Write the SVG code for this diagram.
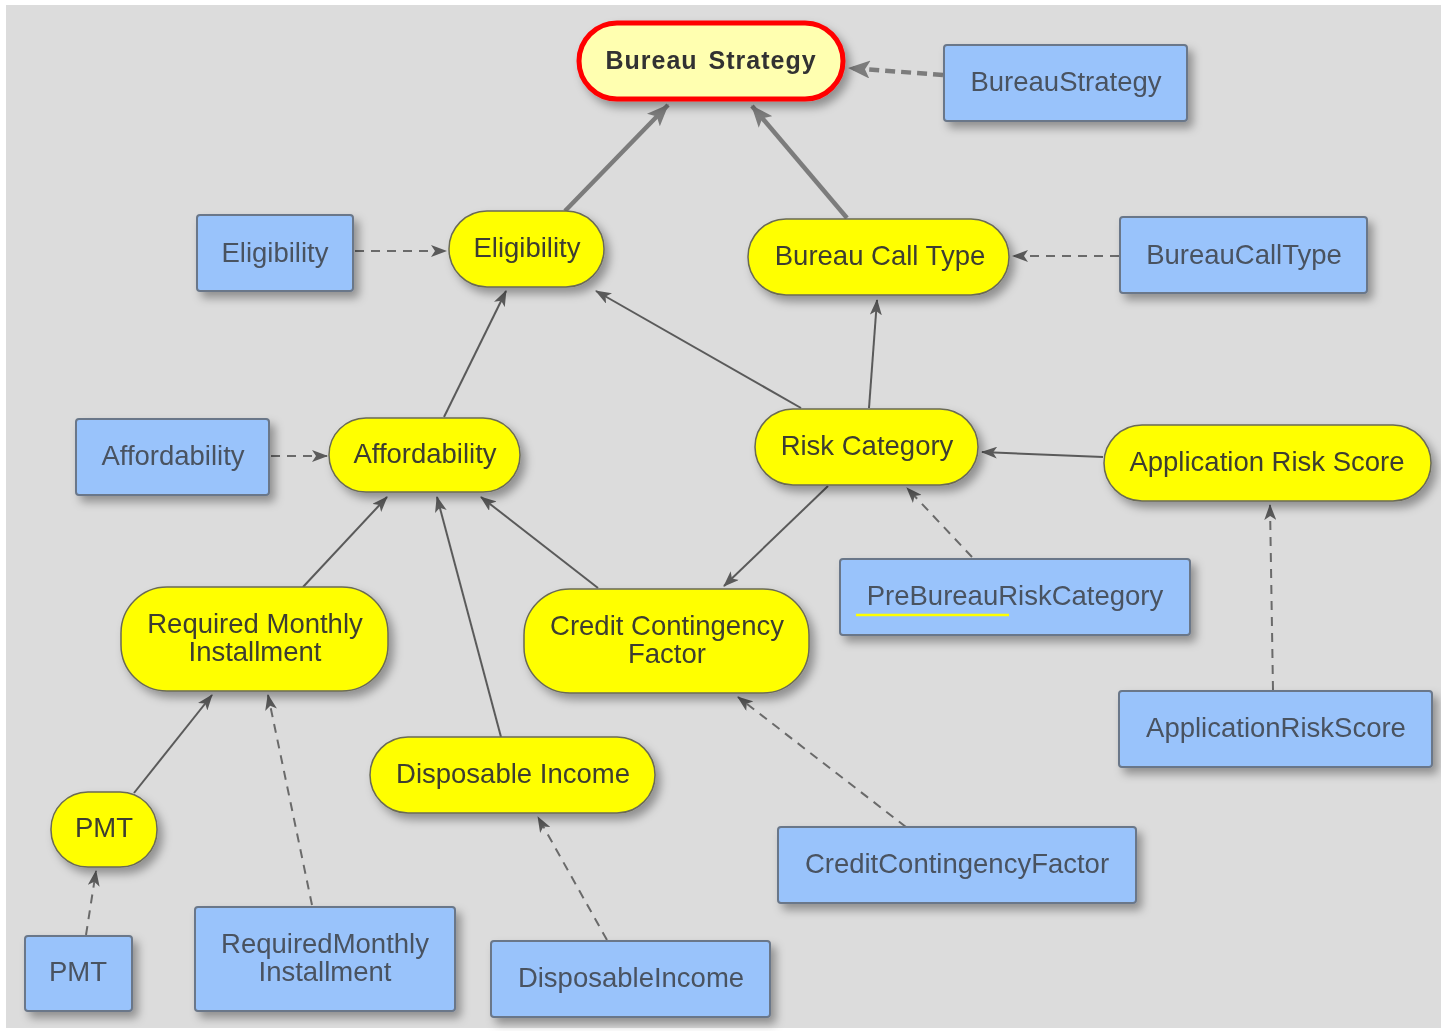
<svg xmlns="http://www.w3.org/2000/svg" width="1441" height="1031" viewBox="0 0 1441 1031">
  <style>
    .pill { fill: #ffff00; stroke: #6a6a55; stroke-width: 1.5; }
    .box { fill: #99c3fb; stroke: #6a7789; stroke-width: 2; }
    .lbl { font-family: "Liberation Sans", Arial, sans-serif; font-size: 27.5px; text-anchor: middle; }
    .pill-t { fill: #3c3c30; }
    .box-t { fill: #4a5260; }
    .solid { fill: none; stroke: #5a5a5a; stroke-width: 2; }
    .dash { fill: none; stroke: #6a6a6a; stroke-width: 2; stroke-dasharray: 9 7; }
    .thick { fill: none; stroke: #7c7c7c; stroke-width: 4.5; }
    .thickdash { fill: none; stroke: #7c7c7c; stroke-width: 4.5; stroke-dasharray: 10 6; }
  </style>
  <defs>
    <filter id="shadow" x="-20%" y="-30%" width="150%" height="180%">
      <feDropShadow dx="5" dy="6" stdDeviation="5" flood-color="#000" flood-opacity="0.35"/>
    </filter>
    <marker id="ah" viewBox="0 0 16 12" refX="15" refY="6" markerWidth="16" markerHeight="12" markerUnits="userSpaceOnUse" orient="auto">
      <path d="M0,0 L16,6 L0,12 L4,6 Z" fill="#5a5a5a"/>
    </marker>
    <marker id="ahBig" viewBox="0 0 22 18" refX="21" refY="9" markerWidth="22" markerHeight="18" markerUnits="userSpaceOnUse" orient="auto">
      <path d="M0,0 L22,9 L0,18 L5,9 Z" fill="#7c7c7c"/>
    </marker>
  </defs>

  <!-- canvas -->
  <rect x="0" y="0" width="1441" height="1031" fill="#ffffff"/>
  <rect x="6" y="5" width="1435" height="1023" fill="#dcdcdc"/>

  <!-- connectors -->
  <g id="connectors">
    <line class="thickdash" x1="943" y1="75" x2="849" y2="68" marker-end="url(#ahBig)"/>
    <line class="thick" x1="565" y1="211" x2="668" y2="105" marker-end="url(#ahBig)"/>
    <line class="thick" x1="847" y1="218" x2="752" y2="106" marker-end="url(#ahBig)"/>
    <line class="dash" x1="355" y1="251" x2="446" y2="251" marker-end="url(#ah)"/>
    <line class="dash" x1="1119" y1="256" x2="1013" y2="256" marker-end="url(#ah)"/>
    <line class="solid" x1="444" y1="417" x2="506" y2="291" marker-end="url(#ah)"/>
    <line class="solid" x1="801" y1="408" x2="596" y2="291" marker-end="url(#ah)"/>
    <line class="solid" x1="869" y1="408" x2="877" y2="300" marker-end="url(#ah)"/>
    <line class="dash" x1="271" y1="456" x2="327" y2="456" marker-end="url(#ah)"/>
    <line class="solid" x1="1103" y1="457" x2="982" y2="452" marker-end="url(#ah)"/>
    <line class="dash" x1="972" y1="557" x2="907" y2="488" marker-end="url(#ah)"/>
    <line class="solid" x1="828" y1="486" x2="724" y2="586" marker-end="url(#ah)"/>
    <line class="dash" x1="1273" y1="690" x2="1270" y2="505" marker-end="url(#ah)"/>
    <line class="solid" x1="303" y1="587" x2="387" y2="497" marker-end="url(#ah)"/>
    <line class="solid" x1="501" y1="737" x2="437" y2="497" marker-end="url(#ah)"/>
    <line class="solid" x1="598" y1="588" x2="481" y2="497" marker-end="url(#ah)"/>
    <line class="solid" x1="134" y1="793" x2="212" y2="695" marker-end="url(#ah)"/>
    <line class="dash" x1="312" y1="905" x2="268" y2="695" marker-end="url(#ah)"/>
    <line class="dash" x1="86" y1="935" x2="96" y2="871" marker-end="url(#ah)"/>
    <line class="dash" x1="906" y1="827" x2="738" y2="697" marker-end="url(#ah)"/>
    <line class="dash" x1="607" y1="940" x2="538" y2="817" marker-end="url(#ah)"/>
  </g>

  <!-- goal node -->
  <g id="bureau-strategy" filter="url(#shadow)">
    <rect x="579" y="23" width="264" height="76" rx="38" fill="#ffffb0" stroke="#ff0000" stroke-width="5"/>
    <text x="711" y="69" font-family="'Liberation Sans', Arial, sans-serif" font-size="25" font-weight="bold" letter-spacing="1" word-spacing="3" text-anchor="middle" fill="#333333">Bureau Strategy</text>
  </g>

  <g id="bureau-strategy-src" filter="url(#shadow)">
    <rect class="box" x="944" y="45" width="243" height="76" rx="3"/>
    <text class="lbl box-t" x="1066" y="91">BureauStrategy</text>
  </g>

  <g id="eligibility-src" filter="url(#shadow)">
    <rect class="box" x="197" y="215" width="156" height="76" rx="3"/>
    <text class="lbl box-t" x="275" y="262">Eligibility</text>
  </g>

  <g id="eligibility" filter="url(#shadow)">
    <rect class="pill" x="449" y="211" width="155" height="76" rx="38"/>
    <text class="lbl pill-t" x="527" y="257">Eligibility</text>
  </g>

  <g id="bureau-call-type" filter="url(#shadow)">
    <rect class="pill" x="748" y="219" width="261" height="76" rx="38"/>
    <text class="lbl pill-t" x="880" y="265">Bureau Call Type</text>
  </g>

  <g id="bureau-call-type-src" filter="url(#shadow)">
    <rect class="box" x="1120" y="217" width="247" height="76" rx="3"/>
    <text class="lbl box-t" x="1244" y="264">BureauCallType</text>
  </g>

  <g id="affordability-src" filter="url(#shadow)">
    <rect class="box" x="76" y="419" width="193" height="76" rx="3"/>
    <text class="lbl box-t" x="173" y="465">Affordability</text>
  </g>

  <g id="affordability" filter="url(#shadow)">
    <rect class="pill" x="329" y="418" width="191" height="74" rx="37"/>
    <text class="lbl pill-t" x="425" y="463">Affordability</text>
  </g>

  <g id="risk-category" filter="url(#shadow)">
    <rect class="pill" x="755" y="409" width="223" height="76" rx="38"/>
    <text class="lbl pill-t" x="867" y="455">Risk Category</text>
  </g>

  <g id="application-risk-score" filter="url(#shadow)">
    <rect class="pill" x="1104" y="425" width="327" height="76" rx="38"/>
    <text class="lbl pill-t" x="1267" y="471">Application Risk Score</text>
  </g>

  <g id="required-monthly-installment" filter="url(#shadow)">
    <rect class="pill" x="121" y="587" width="267" height="104" rx="46"/>
    <text class="lbl pill-t" x="255" y="633">Required Monthly</text>
    <text class="lbl pill-t" x="255" y="661">Installment</text>
  </g>

  <g id="credit-contingency-factor" filter="url(#shadow)">
    <rect class="pill" x="524" y="589" width="285" height="104" rx="46"/>
    <text class="lbl pill-t" x="667" y="635">Credit Contingency</text>
    <text class="lbl pill-t" x="667" y="663">Factor</text>
  </g>

  <g id="pre-bureau-risk-category-src" filter="url(#shadow)">
    <rect class="box" x="840" y="559" width="350" height="76" rx="3"/>
    <text class="lbl box-t" x="1015" y="605">PreBureauRiskCategory</text>
    <line x1="856" y1="615" x2="1009" y2="615" stroke="#ffff00" stroke-width="2.5"/>
  </g>

  <g id="application-risk-score-src" filter="url(#shadow)">
    <rect class="box" x="1119" y="691" width="313" height="76" rx="3"/>
    <text class="lbl box-t" x="1276" y="737">ApplicationRiskScore</text>
  </g>

  <g id="disposable-income" filter="url(#shadow)">
    <rect class="pill" x="370" y="737" width="285" height="76" rx="38"/>
    <text class="lbl pill-t" x="513" y="783">Disposable Income</text>
  </g>

  <g id="pmt" filter="url(#shadow)">
    <rect class="pill" x="51" y="792" width="106" height="75" rx="37"/>
    <text class="lbl pill-t" x="104" y="837">PMT</text>
  </g>

  <g id="credit-contingency-factor-src" filter="url(#shadow)">
    <rect class="box" x="778" y="827" width="358" height="76" rx="3"/>
    <text class="lbl box-t" x="957" y="873">CreditContingencyFactor</text>
  </g>

  <g id="pmt-src" filter="url(#shadow)">
    <rect class="box" x="25" y="936" width="107" height="75" rx="3"/>
    <text class="lbl box-t" x="78" y="981">PMT</text>
  </g>

  <g id="required-monthly-installment-src" filter="url(#shadow)">
    <rect class="box" x="195" y="907" width="260" height="104" rx="3"/>
    <text class="lbl box-t" x="325" y="953">RequiredMonthly</text>
    <text class="lbl box-t" x="325" y="981">Installment</text>
  </g>

  <g id="disposable-income-src" filter="url(#shadow)">
    <rect class="box" x="491" y="941" width="279" height="76" rx="3"/>
    <text class="lbl box-t" x="631" y="987">DisposableIncome</text>
  </g>
</svg>
